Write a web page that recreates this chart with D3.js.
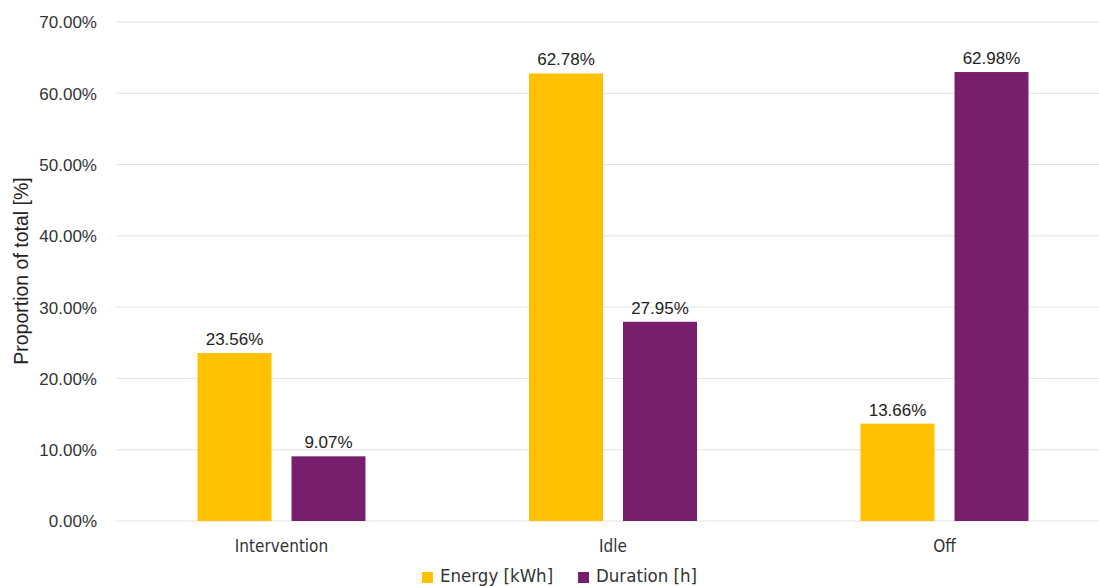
<!DOCTYPE html>
<html><head><meta charset="utf-8">
<script src="https://cdn.jsdelivr.net/npm/d3@7"></script>
<style>body{margin:0;background:#fff}</style>
</head><body><svg id="c" width="1099" height="587"></svg>
<script>
const categories = ["Intervention", "Idle", "Off"];
const seriesNames = ["Energy [kWh]", "Duration [h]"];
const energy = [23.56, 62.78, 13.66];
const duration = [9.07, 27.95, 62.98];
const yTicks = [0, 10, 20, 30, 40, 50, 60, 70];
const colors = ["#FFC000", "#771F6D"];

(function () {
const svg = d3.select("#c");
const mLeft = 115.75, mRight = 1110.25, mTop = 22, mBottom = 521;
const numFont = "'Liberation Sans', Arial, sans-serif";
const narrowFont = "'Liberation Sans Narrow', 'DejaVu Sans Condensed', 'Roboto Condensed', sans-serif";

const y = d3.scaleLinear().domain([0, 70]).range([mBottom, mTop]);
const x0 = d3.scaleBand().domain(categories).range([mLeft, mRight]).padding(0);
const x1 = d3.scaleBand().domain(seriesNames).range([0, x0.bandwidth()]).paddingInner(0.2128).paddingOuter(0.87);

svg.append("g").selectAll("line").data(yTicks).join("line")
  .attr("x1", mLeft).attr("x2", mRight)
  .attr("y1", d => y(d)).attr("y2", d => y(d))
  .attr("stroke", "#e3e3e3").attr("stroke-width", 1);

const yAxis = d3.axisLeft(y).tickValues(yTicks).tickSize(0).tickPadding(0)
  .tickFormat(d => d.toFixed(2) + "%");
const ga = svg.append("g").attr("transform", `translate(97,0)`).call(yAxis);
ga.select(".domain").remove();
ga.selectAll("text").attr("font-family", numFont).attr("font-size", 17).attr("fill", "#333").attr("dy", "0.35em");

const data = categories.map((c, i) => ({cat: c, vals: [energy[i], duration[i]]}));
const groups = svg.append("g").selectAll("g").data(data).join("g")
  .attr("transform", d => `translate(${x0(d.cat)},0)`);
groups.selectAll("rect").data(d => d.vals.map((v, j) => ({s: seriesNames[j], v, j}))).join("rect")
  .attr("x", d => x1(d.s)).attr("width", x1.bandwidth())
  .attr("y", d => y(d.v)).attr("height", d => y(0) - y(d.v))
  .attr("fill", d => colors[d.j]);
groups.selectAll("text").data(d => d.vals.map((v, j) => ({s: seriesNames[j], v, j}))).join("text")
  .attr("x", d => x1(d.s) + x1.bandwidth() / 2).attr("y", d => y(d.v) - 8)
  .attr("text-anchor", "middle").attr("font-family", numFont).attr("font-size", 17).attr("fill", "#222")
  .text(d => d.v.toFixed(2) + "%");

const xAxis = d3.axisBottom(x0).tickSize(0).tickPadding(0);
const gx = svg.append("g").attr("transform", `translate(0,${mBottom + 25})`).call(xAxis);
gx.select(".domain").remove();
gx.selectAll("text").attr("font-family", narrowFont).attr("font-size", 17).attr("fill", "#333").attr("dy", "0.35em");

svg.append("text").attr("transform", `translate(28,271) rotate(-90)`)
  .attr("text-anchor", "middle").attr("font-family", numFont).attr("font-size", 19.5).attr("fill", "#222")
  .text("Proportion of total [%]");

const legX = [422, 578];
const lg = svg.append("g").selectAll("g").data(seriesNames).join("g")
  .attr("transform", (d, i) => `translate(${legX[i]},576)`);
lg.append("rect").attr("x", 0).attr("y", -4).attr("width", 11).attr("height", 11).attr("fill", (d, i) => colors[i]);
lg.append("text").attr("x", 18).attr("y", 0).attr("dy", "0.35em")
  .attr("font-family", narrowFont).attr("font-size", 18.5).attr("fill", "#333").text(d => d);
})();
</script></body></html>
